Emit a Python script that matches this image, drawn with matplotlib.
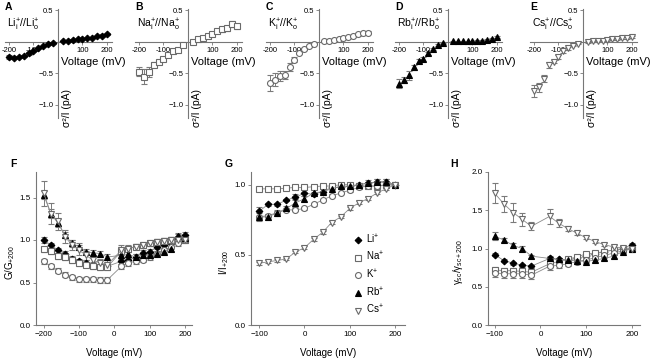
import numpy as np
import matplotlib
matplotlib.use("Agg")
import matplotlib.pyplot as plt
from matplotlib.lines import Line2D

plt.rcParams['font.family'] = ['Liberation Sans', 'DejaVu Sans']
plt.rcParams['mathtext.fontset'] = 'custom'
plt.rcParams['mathtext.rm'] = 'Liberation Sans'
plt.rcParams['mathtext.it'] = 'Liberation Sans:italic'
plt.rcParams['mathtext.bf'] = 'Liberation Sans:bold'

# --- data ---
ions = ['Li', 'Na', 'K', 'Rb', 'Cs']

# top row: noise ratio sigma^2/I vs voltage
v_top = [-200, -180, -160, -140, -120, -100, -80, -60, -40, -20,
         20, 40, 60, 80, 100, 120, 140, 160, 180, 200]
li_top = [-0.24, -0.25, -0.24, -0.22, -0.18, -0.14, -0.10, -0.07, -0.04, -0.02,
          0.01, 0.02, 0.03, 0.04, 0.05, 0.06, 0.07, 0.09, 0.10, 0.13]
li_top_err = [0.03, 0.02, 0.02, 0.02, 0.02, 0.02, 0.01, 0.01, 0.01, 0.01,
              0.01, 0.01, 0.01, 0.01, 0.01, 0.01, 0.01, 0.01, 0.02, 0.02]
na_top = [-0.47, -0.55, -0.47, -0.36, -0.32, -0.27, -0.20, -0.15, -0.12, -0.05,
          0.00, 0.04, 0.07, 0.10, 0.13, 0.17, 0.20, 0.22, 0.28, 0.25]
na_top_err = [0.07, 0.12, 0.08, 0.04, 0.03, 0.03, 0.02, 0.02, 0.02, 0.02,
              0.03, 0.02, 0.02, 0.02, 0.03, 0.03, 0.04, 0.04, 0.05, 0.04]
k_top = [-0.65, -0.60, -0.54, -0.52, -0.40, -0.28, -0.17, -0.11, -0.07, -0.03,
         0.01, 0.02, 0.03, 0.05, 0.06, 0.08, 0.10, 0.12, 0.14, 0.15]
k_top_err = [0.12, 0.10, 0.08, 0.06, 0.06, 0.04, 0.02, 0.02, 0.01, 0.01,
             0.01, 0.01, 0.01, 0.01, 0.01, 0.01, 0.01, 0.02, 0.02, 0.02]
rb_top = [-0.66, -0.60, -0.53, -0.40, -0.30, -0.27, -0.18, -0.11, -0.05, -0.02,
          0.01, 0.01, 0.01, 0.01, 0.01, 0.02, 0.02, 0.03, 0.05, 0.08]
rb_top_err = [0.07, 0.05, 0.07, 0.04, 0.03, 0.03, 0.02, 0.02, 0.01, 0.01,
              0.01, 0.01, 0.01, 0.01, 0.01, 0.01, 0.01, 0.01, 0.02, 0.02]
cs_top = [-0.78, -0.72, -0.58, -0.36, -0.31, -0.24, -0.15, -0.10, -0.06, -0.03,
          0.00, 0.01, 0.01, 0.02, 0.03, 0.04, 0.05, 0.06, 0.07, 0.08]
cs_top_err = [0.10, 0.07, 0.05, 0.05, 0.03, 0.03, 0.02, 0.02, 0.01, 0.01,
              0.01, 0.01, 0.01, 0.01, 0.01, 0.01, 0.02, 0.02, 0.02, 0.02]

# F: G/G+200
v_f = v_top
li_f = [1.00, 0.94, 0.88, 0.84, 0.78, 0.75, 0.73, 0.71, 0.69, 0.69,
        0.75, 0.76, 0.80, 0.85, 0.86, 0.92, 0.94, 0.96, 1.04, 1.06]
na_f = [0.89, 0.87, 0.81, 0.80, 0.76, 0.73, 0.71, 0.69, 0.68, 0.68,
        0.87, 0.90, 0.92, 0.94, 0.96, 0.98, 0.99, 1.00, 1.00, 1.00]
k_f = [0.75, 0.69, 0.64, 0.59, 0.56, 0.54, 0.54, 0.54, 0.53, 0.53,
       0.69, 0.73, 0.75, 0.77, 0.80, 0.84, 0.88, 0.92, 0.96, 1.00]
rb_f = [1.53, 1.31, 1.20, 1.06, 0.96, 0.92, 0.86, 0.85, 0.84, 0.80,
        0.82, 0.83, 0.80, 0.82, 0.82, 0.84, 0.86, 0.90, 1.05, 1.02]
cs_f = [1.55, 1.31, 1.22, 1.04, 0.94, 0.88, 0.82, 0.76, 0.73, 0.71,
        0.88, 0.90, 0.92, 0.94, 0.96, 0.98, 0.99, 1.00, 1.00, 1.00]
li_f_err = [0.03] * 20
na_f_err = [0.03, 0.03, 0.03, 0.03, 0.03, 0.03, 0.03, 0.03, 0.03, 0.03,
            0.05, 0.03, 0.03, 0.03, 0.03, 0.03, 0.03, 0.03, 0.03, 0.02]
k_f_err = [0.03] * 20
rb_f_err = [0.05, 0.05, 0.05, 0.04, 0.04, 0.04, 0.03, 0.03, 0.03, 0.03,
            0.03, 0.03, 0.03, 0.03, 0.03, 0.03, 0.03, 0.03, 0.03, 0.02]
cs_f_err = [0.15, 0.12, 0.10, 0.08, 0.06, 0.06, 0.05, 0.05, 0.05, 0.05,
            0.06, 0.04, 0.03, 0.03, 0.03, 0.03, 0.03, 0.03, 0.03, 0.02]

# G: I/I+200
v_g = [-100, -80, -60, -40, -20, 0, 20, 40, 60, 80, 100, 120, 140, 160, 180, 200]
li_g = [0.81, 0.86, 0.86, 0.89, 0.91, 0.94, 0.93, 0.95, 0.98, 0.98,
        0.99, 1.00, 1.01, 1.02, 1.02, 1.00]
na_g = [0.97, 0.97, 0.97, 0.975, 0.98, 0.98, 0.985, 0.99, 0.99, 1.00,
        1.00, 0.99, 0.99, 0.99, 0.995, 1.00]
k_g = [0.77, 0.78, 0.80, 0.82, 0.82, 0.83, 0.86, 0.89, 0.92, 0.94,
       0.96, 0.98, 0.99, 0.99, 1.00, 1.00]
rb_g = [0.77, 0.77, 0.80, 0.83, 0.87, 0.90, 0.94, 0.95, 0.97, 0.99,
        0.99, 1.00, 1.01, 1.02, 1.02, 1.00]
cs_g = [0.44, 0.45, 0.46, 0.47, 0.52, 0.55, 0.61, 0.66, 0.73, 0.77,
        0.83, 0.87, 0.90, 0.94, 0.97, 1.00]
li_g_err = [0.03, 0.01, 0.01, 0.01, 0.02, 0.02, 0.01, 0.02, 0.01, 0.01,
            0.01, 0.01, 0.01, 0.02, 0.02, 0.0]
rb_g_err = [0.03, 0.02, 0.02, 0.02, 0.03, 0.02, 0.01, 0.02, 0.01, 0.01,
            0.01, 0.01, 0.02, 0.02, 0.02, 0.0]
small_g_err = [0.01] * 15 + [0.0]

# H: gamma_sc / gamma_sc+200
v_h = [-100, -80, -60, -40, -20, 20, 40, 60, 80, 100, 120, 140, 160, 180, 200]
li_h = [0.92, 0.84, 0.81, 0.78, 0.77, 0.87, 0.86, 0.85, 0.87, 0.90,
        0.93, 0.96, 0.98, 1.00, 1.05]
na_h = [0.72, 0.71, 0.71, 0.70, 0.69, 0.80, 0.83, 0.86, 0.89, 0.93,
        0.94, 0.96, 0.98, 0.99, 1.00]
k_h = [0.68, 0.67, 0.67, 0.67, 0.65, 0.77, 0.78, 0.80, 0.83, 0.85,
       0.88, 0.91, 0.94, 0.97, 1.00]
rb_h = [1.16, 1.11, 1.04, 1.00, 0.90, 0.87, 0.86, 0.85, 0.84, 0.83,
        0.85, 0.87, 0.90, 0.96, 1.00]
cs_h = [1.72, 1.58, 1.47, 1.38, 1.29, 1.42, 1.33, 1.26, 1.20, 1.14,
        1.09, 1.05, 1.02, 1.01, 1.00]
li_h_err = [0.02, 0.02, 0.02, 0.02, 0.02, 0.03, 0.02, 0.02, 0.02, 0.02,
            0.02, 0.02, 0.02, 0.02, 0.02]
na_h_err = [0.04, 0.04, 0.04, 0.04, 0.05, 0.04, 0.03, 0.03, 0.03, 0.03,
            0.03, 0.03, 0.02, 0.02, 0.01]
k_h_err = [0.05, 0.05, 0.05, 0.05, 0.05, 0.05, 0.04, 0.03, 0.03, 0.03,
           0.03, 0.03, 0.02, 0.02, 0.01]
rb_h_err = [0.05, 0.03, 0.03, 0.03, 0.02, 0.02, 0.02, 0.02, 0.02, 0.02,
            0.02, 0.02, 0.02, 0.02, 0.02]
cs_h_err = [0.13, 0.10, 0.12, 0.08, 0.05, 0.10, 0.05, 0.03, 0.03, 0.02,
            0.02, 0.02, 0.02, 0.02, 0.02]

top_vals = [li_top, na_top, k_top, rb_top, cs_top]
top_errs = [li_top_err, na_top_err, k_top_err, rb_top_err, cs_top_err]
f_vals = [li_f, na_f, k_f, rb_f, cs_f]
f_errs = [li_f_err, na_f_err, k_f_err, rb_f_err, cs_f_err]
g_vals = [li_g, na_g, k_g, rb_g, cs_g]
g_errs = [li_g_err, small_g_err, small_g_err, rb_g_err, small_g_err]
h_vals = [li_h, na_h, k_h, rb_h, cs_h]
h_errs = [li_h_err, na_h_err, k_h_err, rb_h_err, cs_h_err]

# marker styles per ion
GRAY = '#6a6a6a'
styles = {
    'Li': dict(marker='D', ms=3.4, mfc='black', mec='black'),
    'Na': dict(marker='s', ms=4.0, mfc='white', mec=GRAY),
    'K': dict(marker='o', ms=4.3, mfc='white', mec=GRAY),
    'Rb': dict(marker='^', ms=4.3, mfc='black', mec='black'),
    'Cs': dict(marker='v', ms=4.3, mfc='white', mec=GRAY),
}

W, H = 654, 359
fig = plt.figure(figsize=(W / 100, H / 100), dpi=100)


def px_axes(x0, x1, y0, y1):
    return fig.add_axes([x0 / W, 1 - y1 / H, (x1 - x0) / W, (y1 - y0) / H])


TICK_FS = 5.5
AX_COLOR = '#777777'

# --- top row ---
top_axis_x = [58, 188, 319, 448, 583]
letters = ['A', 'B', 'C', 'D', 'E']
for i, ion in enumerate(ions):
    x0 = top_axis_x[i]
    ax = px_axes(x0 - 52.7, x0 + 53.9, 9.2, 117.6)
    ax.set_xlim(-215, 220)
    ax.set_ylim(-1.2, 0.52)
    ax.patch.set_alpha(0)
    for s in ['top', 'right']:
        ax.spines[s].set_visible(False)
    ax.spines['left'].set_position(('data', 0))
    ax.spines['bottom'].set_position(('data', 0))
    for s in ['left', 'bottom']:
        ax.spines[s].set_color(AX_COLOR)
        ax.spines[s].set_linewidth(0.8)
    ax.set_xticks([-200, -100, 100, 200])
    ax.set_yticks([0.5, -0.5, -1.0])
    ax.set_yticklabels(['0.5', '\u22120.5', '\u22121.0'])
    ax.set_xticklabels(['-200', '-100', '100', '200'])
    ax.tick_params(labelsize=TICK_FS, length=2, width=0.6, color=AX_COLOR, pad=1.5)
    ax.errorbar(v_top, top_vals[i], yerr=top_errs[i], ls='none', ecolor='#7a7a7a',
                elinewidth=0.7, capsize=2.2, capthick=0.7, mew=0.8, clip_on=False,
                zorder=3, **styles[ion])
    ax.text(-210, 0.27, ion + r'$_\mathregular{i}^\mathregular{+}$//' + ion +
            r'$_\mathregular{o}^\mathregular{+}$', fontsize=7.5, ha='left', va='center')
    ax.text(143, -0.32, 'Voltage (mV)', fontsize=8, ha='center', va='center')
    ax.text(36, -1.05, '\u03c3\u00b2/I (pA)', fontsize=7.5, rotation=90,
            ha='center', va='center', clip_on=False)
    fig.text((x0 - 53) / W, 1 - 7 / H, letters[i], fontsize=7.5, fontweight='bold',
             ha='left', va='center')

# --- bottom row ---
lims = [
    (36, 192, (-222, 220), (0, 1.8), [-200, -100, 0, 100, 200], [0, 0.5, 1.0, 1.5],
     v_f, f_vals, f_errs, 'G/G$_\\mathregular{+200}$', 10, 'F', 10),
    (251, 405, (-118, 222), (0, 1.09), [-100, 0, 100, 200], [0, 0.5, 1.0],
     v_g, g_vals, g_errs, 'I/I$_\\mathregular{+200}$', 224, 'G', 225),
    (488, 640, (-115, 218), (0, 2.0), [-100, 0, 100, 200], [0, 0.5, 1.0, 1.5, 2.0],
     v_h, h_vals, h_errs, '\u03b3$_\\mathregular{sc}$/\u03b3$_\\mathregular{sc+200}$', 458, 'H', 450),
]
for (x0, x1, xl, yl, xt, yt, vv, vals, errs, ylab, ylab_x, letter, let_x) in lims:
    ax = px_axes(x0, x1, 172, 325)
    ax.set_xlim(*xl)
    ax.set_ylim(*yl)
    ax.patch.set_alpha(0)
    for s in ['top', 'right']:
        ax.spines[s].set_visible(False)
    for s in ['left', 'bottom']:
        ax.spines[s].set_color(AX_COLOR)
        ax.spines[s].set_linewidth(0.8)
    ax.set_xticks(xt)
    ax.set_yticks(yt)
    ax.set_xticklabels([('\u2212' if t < 0 else '') + str(abs(t)) for t in xt])
    ax.set_yticklabels(['%.1f' % t for t in yt])
    ax.tick_params(labelsize=TICK_FS + 0.3, length=2, width=0.6, color=AX_COLOR, pad=2)
    for i, ion in enumerate(ions):
        ax.errorbar(vv, vals[i], yerr=errs[i], color='#8a8a8a', lw=0.6,
                    ecolor='#7a7a7a', elinewidth=0.7, capsize=2.2, capthick=0.7,
                    mew=0.8, clip_on=False, zorder=3, **styles[ion])
    fig.text((x0 + x1) / 2 / W, 1 - 353 / H, 'Voltage (mV)', fontsize=7,
             ha='center', va='center')
    fig.text(ylab_x / W, 1 - 262 / H, ylab, fontsize=7, rotation=90,
             ha='center', va='center')
    fig.text(let_x / W, 1 - 164 / H, letter, fontsize=7.5, fontweight='bold',
             ha='left', va='center')
    if letter == 'G':
        handles = [Line2D([], [], ls='none', mew=0.8, **styles[ion]) for ion in ions]
        labels = [ion + '$^\\mathregular{+}$' for ion in ions]
        ax.legend(handles, labels, loc='center left', bbox_to_anchor=(0.64, 0.33),
                  frameon=False, fontsize=7, handlelength=1.0, handletextpad=0.3,
                  labelspacing=0.45, borderaxespad=0)

fig.savefig('out.png', dpi=100)
